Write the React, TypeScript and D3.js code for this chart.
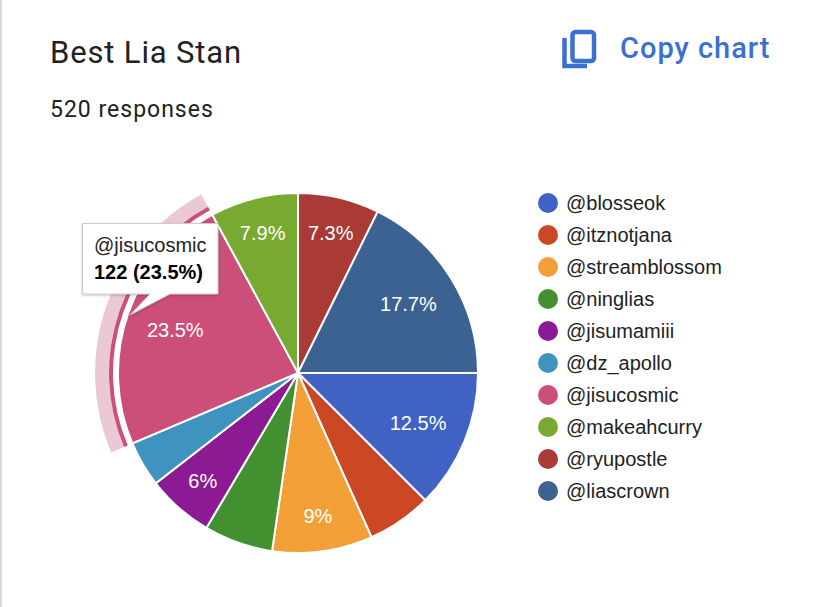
import React from 'react';
import { arc, pie, scaleOrdinal, scalePoint } from 'd3';

const width = 828;
const height = 607;
const centerX = 298;
const centerY = 373;
const radius = 180;

const names = [
  '@blosseok',
  '@itznotjana',
  '@streamblossom',
  '@ninglias',
  '@jisumamiii',
  '@dz_apollo',
  '@jisucosmic',
  '@makeahcurry',
  '@ryupostle',
  '@liascrown',
];
const shares = [12.5, 5.8, 9, 6.2, 6, 4.1, 23.5, 7.9, 7.3, 17.7];
const sliceLabels = ['12.5%', '', '9%', '', '6%', '', '23.5%', '7.9%', '7.3%', '17.7%'];
const colors = [
  '#3f62c4',
  '#cc4724',
  '#f29f38',
  '#429030',
  '#8c1a92',
  '#3f94bf',
  '#cb4f78',
  '#78a931',
  '#a93a36',
  '#3c6291',
];
const highlighted = '@jisucosmic';

const colorOf = scaleOrdinal<string, string>().domain(names).range(colors);
const legendY = scalePoint<string>().domain(names).range([203, 491]);

const slices = pie<number>()
  .sort(null)
  .startAngle(Math.PI / 2)
  .endAngle(Math.PI * 2.5)(shares);

const sliceArc = arc<any>().innerRadius(0).outerRadius(radius);
// narrow slices keep their label further out, like the Sheets chart does
const wideLabel = arc<any>().innerRadius(130).outerRadius(130);
const narrowLabel = arc<any>().innerRadius(144).outerRadius(144);
const ringDark = arc<any>().innerRadius(185).outerRadius(189);
const ringLight = arc<any>().innerRadius(189).outerRadius(203);

const App = () => {
  const hi = slices[names.indexOf(highlighted)];
  return (
    <svg
      width={width}
      height={height}
      style={{ position: 'absolute', left: 0, top: 0, background: '#fff' }}
    >
      <defs>
        <filter id="tipShadow" x="-10%" y="-10%" width="120%" height="125%">
          <feDropShadow dx={0} dy={1} stdDeviation={1.2} floodColor="#000" floodOpacity={0.25} />
        </filter>
      </defs>
      <rect x={0} y={0} width={2} height={height} fill="#dadada" />
      <text x={50} y={63} fontFamily="Roboto" fontSize={31} fill="#212121" letterSpacing={0.85}>
        Best Lia Stan
      </text>
      <text x={50} y={117} fontFamily="Roboto" fontSize={23} fill="#212121" letterSpacing={1}>
        520 responses
      </text>

      <g fill="none" stroke="#3b6fd4" strokeWidth={4.5}>
        <rect x={572.5} y={32} width={21.5} height={29} rx={3} />
        <path d="M564.5 38 V66 H587" />
      </g>
      <text
        x={620}
        y={58}
        fontFamily="Roboto"
        fontWeight={500}
        fontSize={29}
        letterSpacing={1}
        fill="#3b6fd4"
      >
        Copy chart
      </text>

      <g transform={`translate(${centerX},${centerY})`}>
        <path d={ringLight(hi) as string} fill="#eac8d6" />
        <path d={ringDark(hi) as string} fill="#cb4f78" />
        {slices.map((d, i) => (
          <path
            key={names[i]}
            d={sliceArc(d) as string}
            fill={colorOf(names[i])}
            stroke="#fff"
            strokeWidth={2}
          />
        ))}
        {slices.map((d, i) => {
          const [x, y] = (shares[i] < 10 ? narrowLabel : wideLabel).centroid(d);
          return (
            <text
              key={names[i]}
              x={x}
              y={y}
              dy="0.35em"
              textAnchor="middle"
              fontFamily="Liberation Sans"
              fontSize={20}
              fill="#fff"
            >
              {sliceLabels[i]}
            </text>
          );
        })}
      </g>

      <g fontFamily="Liberation Sans" fontSize={20} fill="#222">
        {names.map((n) => (
          <g key={n} transform={`translate(548,${legendY(n)})`}>
            <circle r={10} fill={colorOf(n)} />
            <text x={18} dy="0.35em">
              {n}
            </text>
          </g>
        ))}
      </g>

      <path
        d="M82.5 223.5 H218 V294 H170 L130 315 L150 294 H82.5 Z"
        fill="#fff"
        stroke="#ccc"
        strokeWidth={1}
        filter="url(#tipShadow)"
      />
      <g fontFamily="Liberation Sans" fontSize={20} fill="#222">
        <text x={94} y={252}>
          {highlighted}
        </text>
        <text x={94} y={279} fontWeight="bold" fill="#000">
          122 (23.5%)
        </text>
      </g>
    </svg>
  );
};

export default App;
